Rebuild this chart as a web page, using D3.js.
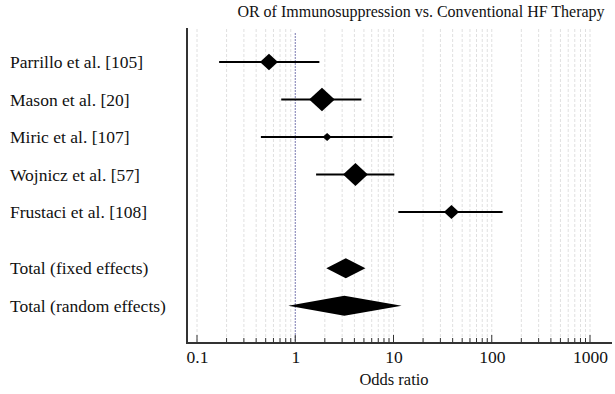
<!DOCTYPE html>
<html>
<head>
<script type="text/javascript" src="https://cdn.jsdelivr.net/npm/d3@7"></script>
</head>
<body style="margin:0; background:#fff">
<script type="text/javascript">
var w = 615;
var h = 394;
var serif = "'Liberation Serif', 'Times New Roman', serif";

// studies and pooled estimates
var studies = ["Parrillo et al. [105]", "Mason et al. [20]", "Miric et al. [107]", "Wojnicz et al. [57]", "Frustaci et al. [108]"];
var studyOR = [0.54, 1.87, 2.11, 4.1, 38.9];
var studyLo = [0.168, 0.72, 0.447, 1.63, 11.2];
var studyHi = [1.76, 4.71, 9.77, 10.2, 129];
var studyWeight = [17.0, 34.4, 4.2, 32.3, 12.1];

var totals = ["Total (fixed effects)", "Total (random effects)"];
var totalOR = [3.27, 3.16];
var totalLo = [2.07, 0.85];
var totalHi = [5.18, 12.1];

var tickValues = [0.1, 1, 10, 100, 1000];
var tickLabels = ["0.1", "1", "10", "100", "1000"];

var svg = d3.select("body").append("svg")
  .attr("width", w)
  .attr("height", h);

var x = d3.scaleLog().domain([0.1, 1000]).range([197, 590]);
var y = d3.scaleLinear().domain([0, 1]).range([62, 99.5]);
var size = d3.scaleSqrt().domain([0, 34.4]).range([0, 12.8]);

var plotTop = 29, plotBottom = 343, plotLeft = 187, plotRight = 612;

// grid lines at every 1..9 x decade
var grid = [];
for (var e = -1; e <= 2; e++) {
  for (var k = 1; k <= 9; k++) grid.push(k * Math.pow(10, e));
}
grid.push(1000);

svg.append("g").selectAll("line")
  .data(grid.filter(function (d) { return d !== 1; }))
  .enter().append("line")
  .attr("x1", function (d) { return x(d); })
  .attr("x2", function (d) { return x(d); })
  .attr("y1", plotTop)
  .attr("y2", plotBottom)
  .attr("stroke", "#e0e0e0")
  .attr("stroke-width", 1)
  .attr("stroke-dasharray", "3,2");

// reference line at OR = 1
svg.append("line")
  .attr("x1", x(1)).attr("x2", x(1))
  .attr("y1", plotTop + 4).attr("y2", plotBottom)
  .attr("stroke", "#7a7ab0")
  .attr("stroke-width", 1)
  .attr("stroke-dasharray", "2,1");

// x axis with major and minor ticks pointing up
var xAxis = d3.axisBottom(x)
  .tickValues(tickValues)
  .tickFormat(function (d, i) { return tickLabels[i]; })
  .tickSize(0)
  .tickPadding(8);

var gx = svg.append("g")
  .attr("transform", "translate(0," + plotBottom + ")")
  .call(xAxis);
gx.select(".domain").remove();
gx.selectAll(".tick text")
  .style("font-family", serif)
  .attr("font-size", "17.5px")
  .attr("fill", "#111");

svg.append("g").selectAll("line")
  .data(grid)
  .enter().append("line")
  .attr("x1", function (d) { return x(d); })
  .attr("x2", function (d) { return x(d); })
  .attr("y1", plotBottom)
  .attr("y2", function (d) { return tickValues.indexOf(d) >= 0 ? plotBottom - 8 : plotBottom - 5; })
  .attr("stroke", "#333")
  .attr("stroke-width", 1);

svg.append("line")
  .attr("x1", plotLeft).attr("x2", plotRight)
  .attr("y1", plotBottom).attr("y2", plotBottom)
  .attr("stroke", "#333").attr("stroke-width", 2);

svg.append("line")
  .attr("x1", plotLeft).attr("x2", plotLeft)
  .attr("y1", plotTop - 1).attr("y2", plotBottom + 1)
  .attr("stroke", "#333").attr("stroke-width", 2);

// title and axis label
svg.append("text")
  .attr("x", 421).attr("y", 17)
  .attr("text-anchor", "middle")
  .style("font-family", serif)
  .attr("font-size", "16px")
  .attr("fill", "#111")
  .text("OR of Immunosuppression vs. Conventional HF Therapy");

svg.append("text")
  .attr("x", 394).attr("y", 385)
  .attr("text-anchor", "middle")
  .style("font-family", serif)
  .attr("font-size", "16.5px")
  .attr("fill", "#111")
  .text("Odds ratio");

function diamond(cx, cy, hw, hh) {
  return "M" + (cx - hw) + "," + cy + "L" + cx + "," + (cy - hh) + "L" + (cx + hw) + "," + cy + "L" + cx + "," + (cy + hh) + "Z";
}

// individual studies
var rows = svg.append("g").selectAll("g")
  .data(studies)
  .enter().append("g");

rows.append("text")
  .attr("x", 10)
  .attr("y", function (d, i) { return y(i) + 6; })
  .style("font-family", serif)
  .attr("font-size", "17.5px")
  .attr("fill", "#111")
  .text(function (d) { return d; });

rows.append("line")
  .attr("x1", function (d, i) { return x(studyLo[i]); })
  .attr("x2", function (d, i) { return x(studyHi[i]); })
  .attr("y1", function (d, i) { return y(i); })
  .attr("y2", function (d, i) { return y(i); })
  .attr("stroke", "#000")
  .attr("stroke-width", 2);

rows.append("path")
  .attr("d", function (d, i) {
    var s = size(studyWeight[i]);
    return diamond(x(studyOR[i]), y(i), s, s * 0.92);
  })
  .attr("fill", "#000");

// pooled estimates
var totalRow = [5.5, 6.5];
var pooled = svg.append("g").selectAll("g")
  .data(totals)
  .enter().append("g");

pooled.append("text")
  .attr("x", 10)
  .attr("y", function (d, i) { return y(totalRow[i]) + 6; })
  .style("font-family", serif)
  .attr("font-size", "17.5px")
  .attr("fill", "#111")
  .text(function (d) { return d; });

pooled.append("path")
  .attr("d", function (d, i) {
    var cy = y(totalRow[i]);
    var cx = x(totalOR[i]);
    return "M" + x(totalLo[i]) + "," + cy + "L" + cx + "," + (cy - 10) +
      "L" + x(totalHi[i]) + "," + cy + "L" + cx + "," + (cy + 10) + "Z";
  })
  .attr("fill", "#000");
</script>
</body>
</html>
